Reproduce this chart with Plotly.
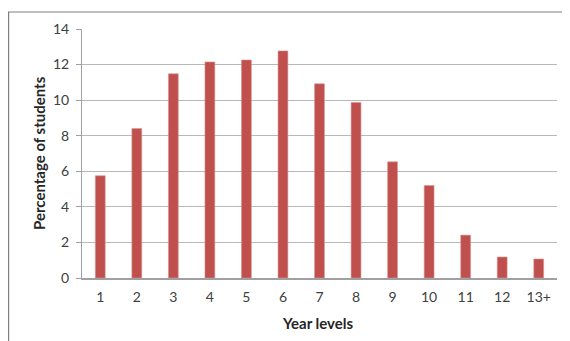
import plotly.graph_objects as go

categories = ["1", "2", "3", "4", "5", "6", "7", "8", "9", "10", "11", "12", "13+"]
percentages = [5.75, 8.4, 11.48, 12.15, 12.26, 12.77, 10.92, 9.87, 6.53, 5.2, 2.41, 1.18, 1.07]
y_ticks = [0, 2, 4, 6, 8, 10, 12, 14]

OFF = 8  # page body margin
W, H = 570 - OFF, 341 - OFF
L, T = 82 - OFF, 29 - OFF
R = W - (557 - OFF)
B = H - (278 - OFF)
pw, ph = W - L - R, H - T - B

def px(x):  # page pixel x -> paper
    return (x - OFF - L) / pw

def py(y):  # page pixel y -> paper
    return (H - B - (y - OFF)) / ph

fig = go.Figure(go.Bar(
    x=categories, y=percentages,
    marker=dict(color="#C0504D", line=dict(color="#D99694", width=0.6)),
    width=0.27,
))

font = "Lato, Carlito, 'Liberation Sans', sans-serif"
fig.update_layout(
    width=W, height=H,
    margin=dict(l=L, r=R, t=T, b=B, autoexpand=False),
    paper_bgcolor="white", plot_bgcolor="white",
    showlegend=False,
    font=dict(family=font, size=14, color="#404040"),
    xaxis=dict(
        type="category", showgrid=False, automargin=False,
        showline=True, linecolor="#A0A0A0", linewidth=1.5,
        ticks="", tickfont=dict(size=14, color="#404040"),
        ticklabelstandoff=5,
    ),
    yaxis=dict(
        range=[0, 14], tickvals=y_ticks, automargin=False,
        showgrid=True, gridcolor="#B8B8B8", gridwidth=1.2,
        showline=True, linecolor="#A0A0A0", linewidth=1,
        ticks="outside", ticklen=5, tickcolor="#A0A0A0",
        tickfont=dict(size=14, color="#404040"),
        ticklabelstandoff=4,
        zeroline=False,
    ),
    annotations=[
        dict(text="<b>Year levels</b>", xref="paper", yref="paper", x=px(318), y=py(323),
             xanchor="center", yanchor="middle", showarrow=False,
             font=dict(size=15, color="#262626")),
        dict(text="<b>Percentage of students</b>", xref="paper", yref="paper", x=px(39), y=py(153),
             xanchor="center", yanchor="middle", showarrow=False, textangle=-90,
             font=dict(size=15, color="#262626")),
    ],
    shapes=[
        dict(type="line", xref="paper", yref="paper", x0=px(8), x1=px(580), y0=py(12), y1=py(12),
             line=dict(color="#7F7F7F", width=1.2)),
        dict(type="line", xref="paper", yref="paper", x0=px(8.6), x1=px(8.6), y0=py(12), y1=py(350),
             line=dict(color="#7F7F7F", width=1.2)),
    ],
)

fig.write_html("out.html")
